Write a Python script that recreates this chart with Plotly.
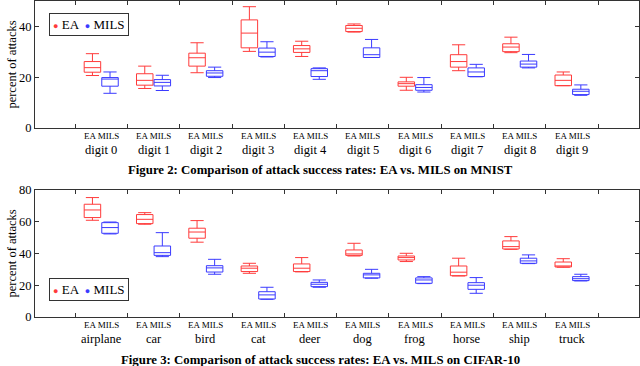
import plotly.graph_objects as go
from plotly.subplots import make_subplots

# MNIST (figure 2) box statistics, percent of attacks
mnist_labels = ['digit 0', 'digit 1', 'digit 2', 'digit 3', 'digit 4',
                'digit 5', 'digit 6', 'digit 7', 'digit 8', 'digit 9']
mnist_ea_low = [20.7, 15.6, 21.8, 30.2, 28.2, 37.8, 14.9, 22.6, 29.7, 16.7]
mnist_ea_q1 = [22.0, 16.9, 24.4, 31.6, 29.8, 38.0, 16.5, 24.0, 30.1, 16.7]
mnist_ea_med = [23.8, 18.8, 27.7, 37.4, 31.2, 39.3, 17.5, 26.2, 31.9, 18.8]
mnist_ea_q3 = [26.2, 21.4, 29.5, 42.6, 32.5, 40.4, 18.2, 28.9, 33.2, 20.9]
mnist_ea_high = [29.3, 24.4, 33.6, 47.8, 34.2, 41.0, 20.0, 32.8, 35.8, 22.1]

mnist_mils_low = [13.7, 14.8, 19.9, 28.0, 19.2, 27.8, 14.2, 20.2, 23.7, 12.9]
mnist_mils_q1 = [16.5, 16.6, 20.4, 28.2, 20.3, 27.8, 14.9, 20.3, 24.0, 13.2]
mnist_mils_med = [19.3, 18.0, 21.7, 29.9, 22.6, 28.9, 16.0, 22.1, 25.2, 14.5]
mnist_mils_q3 = [19.9, 19.1, 22.6, 31.5, 23.4, 31.6, 17.1, 23.7, 26.4, 15.3]
mnist_mils_high = [22.1, 20.8, 24.0, 34.0, 23.7, 34.9, 19.9, 25.1, 29.0, 17.0]

# CIFAR-10 (figure 3)
cifar_labels = ['airplane', 'car', 'bird', 'cat', 'deer',
                'dog', 'frog', 'horse', 'ship', 'truck']
cifar_ea_low = [60.9, 58.4, 47.1, 27.5, 28.4, 38.4, 34.9, 25.8, 42.6, 31.3]
cifar_ea_q1 = [62.6, 58.8, 49.6, 28.6, 28.6, 38.8, 35.9, 26.0, 42.8, 31.5]
cifar_ea_med = [67.4, 61.5, 53.5, 30.7, 30.7, 39.7, 37.4, 28.2, 44.3, 32.1]
cifar_ea_q3 = [71.0, 64.5, 55.9, 32.1, 33.4, 42.2, 38.4, 32.1, 47.9, 34.6]
cifar_ea_high = [75.2, 65.7, 60.7, 33.8, 37.4, 46.4, 40.1, 37.0, 50.6, 36.7]

cifar_mils_low = [52.3, 38.0, 26.9, 11.1, 18.7, 24.4, 21.0, 14.9, 33.6, 22.7]
cifar_mils_q1 = [52.7, 38.8, 28.3, 11.3, 19.1, 24.6, 21.2, 17.4, 33.8, 22.9]
cifar_mils_med = [56.3, 40.5, 30.9, 13.9, 20.6, 26.5, 23.3, 20.0, 35.3, 24.1]
cifar_mils_q3 = [59.4, 44.7, 32.3, 15.9, 21.8, 27.5, 24.6, 21.6, 37.0, 25.4]
cifar_mils_high = [59.8, 53.1, 36.3, 18.7, 23.3, 30.0, 25.4, 24.8, 39.1, 26.9]

RED = '#ff3b3b'
BLUE = '#3b3bff'
FONT = 'Liberation Serif'
OFFSET = 0.168
BOX_W = 0.315

fig = make_subplots(rows=2, cols=1)


def add_boxes(row, labels, stats, color, shift):
    pos = [i + 1 + shift for i in range(len(labels))]
    low, q1, med, q3, high = stats
    fig.add_trace(go.Box(
        x=pos, lowerfence=low, q1=q1, median=med, q3=q3, upperfence=high,
        width=BOX_W, whiskerwidth=0.8, boxpoints=False,
        line=dict(color=color, width=1), fillcolor='rgba(0,0,0,0)',
        showlegend=False), row=row, col=1)


add_boxes(1, mnist_labels, (mnist_ea_low, mnist_ea_q1, mnist_ea_med, mnist_ea_q3, mnist_ea_high), RED, -OFFSET)
add_boxes(1, mnist_labels, (mnist_mils_low, mnist_mils_q1, mnist_mils_med, mnist_mils_q3, mnist_mils_high), BLUE, OFFSET)
add_boxes(2, cifar_labels, (cifar_ea_low, cifar_ea_q1, cifar_ea_med, cifar_ea_q3, cifar_ea_high), RED, -OFFSET)
add_boxes(2, cifar_labels, (cifar_mils_low, cifar_mils_q1, cifar_mils_med, cifar_mils_q3, cifar_mils_high), BLUE, OFFSET)

xax = dict(range=[-0.266, 11.28], showline=True, linecolor='#333', linewidth=1,
           mirror='ticks', tickmode='array', tickvals=[i + 0.5 for i in range(11)],
           ticks='inside', ticklen=4, tickcolor='#333', showticklabels=False,
           showgrid=False, zeroline=False, automargin=False)
yax = dict(showline=True, linecolor='#333', linewidth=1, mirror='ticks',
           ticks='inside', ticklen=4, tickcolor='#333', showgrid=False,
           zeroline=False, tickfont=dict(size=12.5), automargin=False)

fig.update_layout(
    width=640, height=366,
    margin=dict(l=35, r=1, t=0, b=0),
    paper_bgcolor='white', plot_bgcolor='white',
    font=dict(family=FONT, size=12, color='black'),
    xaxis=dict(xax, domain=[0, 1]),
    xaxis2=dict(xax, domain=[0, 1]),
    yaxis=dict(yax, domain=[0.650, 0.997], range=[0, 50], tickvals=[0, 20, 40]),
    yaxis2=dict(yax, domain=[0.134, 0.481], range=[0, 80], tickvals=[0, 20, 40, 60, 80]),
)

legend_text = (f"<span style='color:{RED};font-size:9px'>●</span> EA  "
               f"<span style='color:{BLUE};font-size:9px'>●</span> MILS")
annotations = []
for yref, labels, legend_y in (('y domain', mnist_labels, 0.965), ('y2 domain', cifar_labels, 0.240)):
    xref = 'x' if yref == 'y domain' else 'x2'
    for i, name in enumerate(labels):
        annotations.append(dict(x=i + 1, y=0, xref=xref, yref=yref, text='EA MILS',
                                showarrow=False, yanchor='middle', yshift=-8,
                                font=dict(size=9)))
        annotations.append(dict(x=i + 1, y=0, xref=xref, yref=yref, text=name,
                                showarrow=False, yanchor='middle', yshift=-22,
                                font=dict(size=12.5)))
    # y title, left of the tick labels
    annotations.append(dict(x=0, y=0.5, xref='paper', yref=yref, text='percent of attacks',
                            textangle=-90, showarrow=False, xanchor='center',
                            xshift=-23, font=dict(size=12.5)))
    annotations.append(dict(x=0.023, y=legend_y, xref='paper', yref='paper',
                            xanchor='left', yanchor='top', text=legend_text,
                            showarrow=False, bordercolor='#333', borderwidth=1,
                            borderpad=3, bgcolor='white', font=dict(size=13)))

annotations.append(dict(x=0.473, y=0.5355, xref='paper', yref='paper',
                        text='<b>Figure 2: Comparison of attack success rates: EA vs. MILS on MNIST</b>',
                        showarrow=False, yanchor='middle', font=dict(size=12.8)))
annotations.append(dict(x=0.473, y=0.0164, xref='paper', yref='paper',
                        text='<b>Figure 3: Comparison of attack success rates: EA vs. MILS on CIFAR-10</b>',
                        showarrow=False, yanchor='middle', font=dict(size=12.8)))
fig.update_layout(annotations=annotations)

# the page body has an 8px default margin; drop it so the figure sits at the window corner
fig.write_html("out.html", config={'displayModeBar': False},
               post_script="document.body.style.margin='0';")
